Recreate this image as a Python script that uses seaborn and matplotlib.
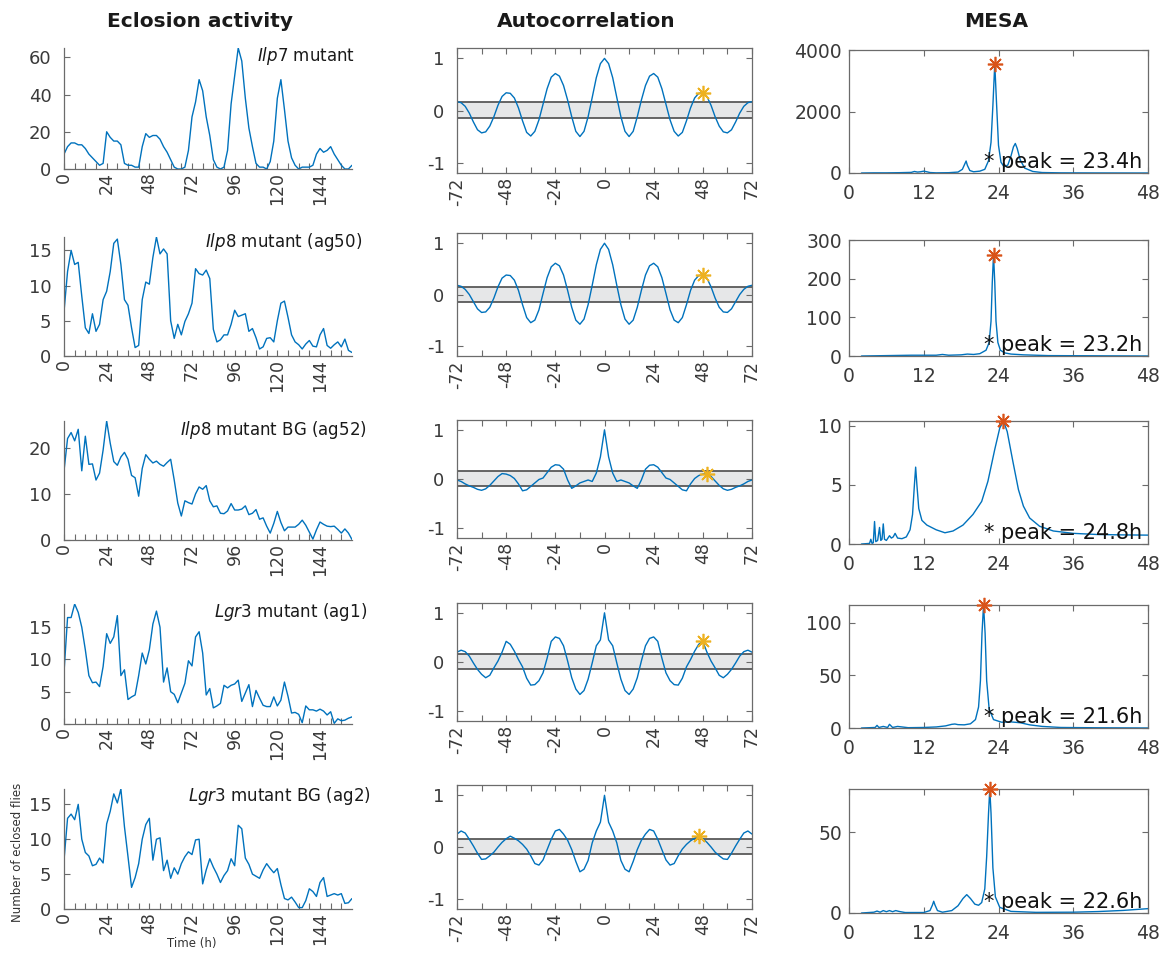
import numpy as np
import matplotlib
matplotlib.use("Agg")
import matplotlib.pyplot as plt
import seaborn as sns
from matplotlib.ticker import FixedLocator, FixedFormatter

# ---------------------------------------------------------------- data
genotypes = [
    r"$\mathit{Ilp7}$ mutant",
    r"$\mathit{Ilp8}$ mutant (ag50)",
    r"$\mathit{Ilp8}$ mutant BG (ag52)",
    r"$\mathit{Lgr3}$ mutant (ag1)",
    r"$\mathit{Lgr3}$ mutant BG (ag2)",
]

# eclosion counts, sampled every 2 h from 0 to 162 h
hours = np.arange(0, 163, 2)
eclosion_ilp7 = [
    8, 12, 14, 14, 13, 13, 11, 8, 6, 4,
    2, 3, 20, 17, 15, 15, 13, 3, 2, 2,
    1, 1, 12, 19, 17, 18, 18, 16, 12, 9,
    5, 1, 0, 0, 1, 10, 28, 36, 48, 42,
    28, 18, 5, 1, 0, 1, 10, 35, 50, 65,
    58, 38, 22, 12, 3, 1, 1, 0, 4, 15,
    38, 48, 32, 15, 6, 2, 0, 1, 1, 1,
    2, 8, 11, 9, 10, 12, 8, 5, 2, 0,
    0, 2,
]
eclosion_ilp8_ag50 = [
    6.3, 12, 15, 13, 13.3, 8.5, 4, 3.2, 6, 3.5,
    4.5, 8, 9.2, 12, 16, 16.6, 13, 8, 7.2, 4,
    1.2, 1.5, 8, 10.5, 10.2, 14, 16.9, 14.5, 15.2, 14.5,
    5, 2.5, 4.5, 3, 4.9, 6, 7.5, 12.4, 11.7, 11.5,
    12.2, 11, 3.8, 2, 2.3, 3, 3, 4.5, 6.5, 5.6,
    5.8, 6, 3.5, 3.9, 2.6, 1, 1.3, 2.5, 2.6, 2,
    5, 7.5, 7.8, 5.5, 3, 2, 1.6, 1, 1.7, 2.2,
    1.4, 1.3, 3, 3.9, 1.5, 1.1, 1.6, 2, 1.3, 2.4,
    0.8, 0.5,
]
eclosion_ilp8_ag52 = [
    15, 22, 23.3, 21.5, 24, 15, 22.5, 16.4, 16.5, 13,
    14.5, 19.5, 25.8, 21, 17, 16.2, 18, 19, 17.5, 14,
    13.5, 9.5, 15.5, 18.5, 17.5, 16.7, 17.1, 16.4, 16, 16.8,
    17.5, 13, 8, 5.2, 8.5, 8.1, 7.8, 10, 11.5, 11,
    11.8, 8.5, 7.2, 7.4, 5.8, 5.7, 6.3, 7.9, 6.5, 6.5,
    6.7, 7.4, 5.5, 5.8, 6.6, 4.5, 4.8, 3, 1.5, 3.6,
    6.2, 3.8, 2, 2.8, 2.8, 2.8, 3.4, 4.3, 3.2, 1.7,
    0.2, 2.2, 3.9, 3.4, 3, 2.9, 3, 2.3, 1.5, 2.4,
    1.5, 0.1,
]
eclosion_lgr3_ag1 = [
    8, 16.5, 16.5, 18.6, 17.3, 15, 11.5, 7.5, 6.4, 6.5,
    5.8, 8.9, 14, 12.5, 13.5, 16.8, 7.5, 8.4, 3.8, 4.2,
    4.5, 7.5, 11, 9.3, 11.5, 15.5, 17.5, 15, 6.5, 8.7,
    5, 4.6, 3.3, 4.8, 6.3, 9.8, 9, 13.5, 14.3, 11,
    4.5, 5.5, 2.5, 2.8, 3.2, 6, 5.6, 6, 6.2, 6.8,
    3.5, 4.8, 6.1, 2.7, 5.2, 4, 2.9, 2.7, 2.7, 4.2,
    2.8, 3.7, 6.5, 4.3, 1.7, 1.8, 1.5, 0.2, 2.8, 2.2,
    2.2, 2, 2.3, 2, 1.4, 1.9, 0.1, 0.8, 0.5, 0.6,
    0.9, 1.1,
]
eclosion_lgr3_ag2 = [
    7, 13, 13.6, 12.8, 15, 10, 8.1, 7.6, 6.2, 6.4,
    7.3, 6.6, 12.2, 14, 16.5, 15.2, 17.2, 11.8, 7.5, 3.1,
    4.5, 6.5, 10, 12.1, 13, 7, 10, 10.2, 5.5, 7,
    4.4, 5.9, 5, 6.5, 7.5, 8.2, 7.8, 9.9, 10, 3.6,
    5.6, 7.2, 6, 5, 3.8, 4.8, 5.5, 7.2, 6.2, 12,
    11.5, 7.3, 6.4, 5, 4.7, 4.4, 5.6, 6.5, 5.8, 5.2,
    5.8, 3.5, 1.5, 1.3, 1.7, 1, 0.2, 0.2, 1.2, 2.9,
    2.5, 1.8, 3.8, 4.5, 1.8, 2, 2.2, 2, 2.2, 0.8,
    0.9, 1.5,
]
eclosion = [eclosion_ilp7, eclosion_ilp8_ag50, eclosion_ilp8_ag52,
            eclosion_lgr3_ag1, eclosion_lgr3_ag2]
eclosion_yticks = [[0, 20, 40, 60], [0, 5, 10, 15], [0, 10, 20],
                   [0, 5, 10, 15], [0, 5, 10, 15]]

# autocorrelation at non-negative lags 0..72 h (step 2 h); the function is even
acf_lags = np.arange(0, 73, 2)
acf_ilp7 = [1.00, 0.90, 0.63, 0.25, -0.12, -0.40, -0.50, -0.40, -0.12, 0.20,
            0.48, 0.66, 0.71, 0.64, 0.42, 0.12, -0.18, -0.40, -0.49, -0.42,
            -0.20, 0.05, 0.24, 0.33, 0.34, 0.27, 0.10, -0.12, -0.30, -0.41,
            -0.43, -0.37, -0.22, -0.05, 0.08, 0.15, 0.17]
acf_ilp8_ag50 = [1.00, 0.88, 0.58, 0.18, -0.20, -0.48, -0.58, -0.50, -0.25, 0.08,
                 0.38, 0.56, 0.61, 0.54, 0.33, 0.02, -0.30, -0.50, -0.55, -0.45,
                 -0.20, 0.08, 0.28, 0.37, 0.38, 0.32, 0.15, -0.07, -0.25, -0.34,
                 -0.35, -0.28, -0.14, 0.00, 0.10, 0.16, 0.18]
acf_ilp8_ag52 = [1.00, 0.45, 0.12, -0.05, -0.02, -0.05, -0.08, -0.14, -0.19, -0.02,
                 0.20, 0.28, 0.29, 0.24, 0.13, 0.02, -0.01, -0.08, -0.15, -0.22,
                 -0.24, -0.10, 0.01, 0.07, 0.10, 0.11, 0.05, -0.04, -0.13, -0.20,
                 -0.23, -0.21, -0.17, -0.14, -0.10, -0.05, -0.02]
acf_lgr3_ag1 = [1.00, 0.45, 0.33, -0.02, -0.35, -0.58, -0.66, -0.55, -0.32, 0.02,
                0.33, 0.48, 0.51, 0.42, 0.08, -0.22, -0.38, -0.46, -0.47, -0.33,
                -0.10, 0.05, 0.22, 0.36, 0.42, 0.20, 0.02, -0.12, -0.27, -0.32,
                -0.25, -0.15, -0.02, 0.12, 0.21, 0.24, 0.20]
acf_lgr3_ag2 = [1.00, 0.48, 0.31, 0.08, -0.26, -0.43, -0.48, -0.28, -0.05, 0.13,
                0.25, 0.34, 0.31, 0.15, -0.05, -0.25, -0.35, -0.32, -0.17, -0.04,
                0.05, 0.12, 0.17, 0.21, 0.16, 0.09, 0.00, -0.10, -0.17, -0.23,
                -0.24, -0.12, 0.02, 0.15, 0.27, 0.31, 0.25]
acf = [acf_ilp7, acf_ilp8_ag50, acf_ilp8_ag52, acf_lgr3_ag1, acf_lgr3_ag2]
acf_marked_lag = [48, 48, 50, 48, 46]
acf_conf_band = (-0.145, 0.155)

# MESA power spectra: period (h) and power
mesa_period_ilp7 = [2, 4, 6, 8, 10, 10.5, 11, 11.5, 12, 12.5, 13, 14, 16, 17.5,
                    18.2, 18.6, 18.8, 19.0, 19.4, 20, 21, 21.8, 22.4, 22.8, 23.1,
                    23.4, 23.7, 24.0, 24.4, 24.9, 25.5, 26.0, 26.4, 26.7, 27.0,
                    27.5, 28.2, 29.5, 31, 34, 40, 48]
mesa_power_ilp7 = [0, 5, 5, 10, 20, 50, 30, 40, 60, 40, 15, 5, 10, 30,
                   120, 300, 390, 250, 80, 40, 60, 120, 400, 1000, 2200,
                   3550, 2200, 900, 350, 200, 260, 550, 850, 960, 800,
                   420, 160, 50, 15, 5, 2, 0]
mesa_period_ilp8_ag50 = [2, 6, 10, 14, 15, 16, 18, 19, 20, 21, 22, 22.5, 22.8,
                         23.0, 23.2, 23.4, 23.6, 23.9, 24.3, 25, 26, 28, 32, 40, 48]
mesa_power_ilp8_ag50 = [0, 1, 2, 2, 4, 2, 3, 5, 4, 6, 15, 35, 90,
                        190, 262, 190, 90, 35, 15, 8, 5, 3, 1, 0.5, 0]
mesa_period_ilp8_ag52 = [2, 3.3, 3.5, 3.7, 3.9, 4.1, 4.3, 4.6, 4.9, 5.1, 5.3, 5.5,
                         5.7, 6.0, 6.5, 6.8, 7.1, 7.4, 7.8, 8.5, 9.2, 9.8, 10.2,
                         10.5, 10.7, 10.9, 11.2, 11.7, 12.5, 14, 15.4, 16.7, 18.3,
                         19.9, 21.3, 22.3, 23.4, 24.2, 24.8, 25.4, 26.3, 27.2, 28,
                         29, 30.6, 32.8, 36, 40, 44, 48]
mesa_power_ilp8_ag52 = [0, 0.05, 0.4, 0.05, 0.1, 1.9, 0.2, 0.3, 1.4, 0.3, 0.4, 1.7,
                        0.4, 0.3, 0.7, 0.5, 0.6, 0.9, 0.5, 0.45, 0.6, 1.2, 2.5,
                        5.0, 6.5, 5.0, 3.0, 2.0, 1.6, 1.2, 0.95, 1.1, 1.6,
                        2.5, 3.6, 5.3, 8.0, 9.8, 10.4, 9.5, 7.0, 4.6, 3.2,
                        2.2, 1.5, 1.1, 0.9, 0.8, 0.77, 0.75]
mesa_period_lgr3_ag1 = [2, 4.2, 4.5, 4.8, 5.5, 6.2, 6.5, 7, 7.8, 9.5, 12, 14, 15.5,
                        16.5, 17, 17.5, 18.5, 19.5, 20.3, 20.8, 21.1, 21.35, 21.6,
                        21.85, 22.1, 22.5, 23.2, 24.5, 26, 27.5, 29, 31, 34, 40, 48]
mesa_power_lgr3_ag1 = [0, 0.5, 2.5, 0.5, 1.5, 0.5, 3.5, 0.5, 1.5, 0.3, 0.5, 1, 2,
                       3.5, 3.8, 3.2, 3.0, 4.0, 8, 20, 45, 90, 117,
                       90, 45, 18, 8, 5.5, 5.8, 5.0, 3, 1.5, 0.5, 0.2, 0]
mesa_period_lgr3_ag2 = [2, 4, 4.5, 5, 5.5, 6, 6.5, 7, 7.5, 8, 9, 12, 13, 13.4, 13.6,
                        13.8, 14.2, 15, 16.5, 17.5, 18.3, 18.9, 19.5, 20.2, 20.8,
                        21.3, 21.8, 22.1, 22.4, 22.6, 22.8, 23.1, 23.5, 24.2, 26,
                        30, 36, 40, 44, 48]
mesa_power_lgr3_ag2 = [0, 0.5, 1.2, 0.5, 1.5, 0.8, 1.5, 0.8, 1.5, 1.0, 0.3, 0.3, 1.5, 5, 7.3,
                       5, 1.5, 0.5, 1.5, 4.5, 9, 11.4, 9, 5.5, 4.8,
                       6.5, 15, 35, 62, 77, 62, 28, 10, 3.5, 1.0,
                       0.4, 0.5, 0.9, 1.6, 2.7]
mesa_period = [mesa_period_ilp7, mesa_period_ilp8_ag50, mesa_period_ilp8_ag52,
               mesa_period_lgr3_ag1, mesa_period_lgr3_ag2]
mesa_power = [mesa_power_ilp7, mesa_power_ilp8_ag50, mesa_power_ilp8_ag52,
              mesa_power_lgr3_ag1, mesa_power_lgr3_ag2]
mesa_peak = [23.4, 23.2, 24.8, 21.6, 22.6]
mesa_ylim_top = [4000, 300, None, None, None]
mesa_yticks = [[0, 2000, 4000], [0, 100, 200, 300], [0, 5, 10], [0, 50, 100], [0, 50]]

# ---------------------------------------------------------------- style
sns.set_theme(style="white")
plt.rcParams["font.family"] = ["DejaVu Sans"]
plt.rcParams["mathtext.fontset"] = "dejavusans"
plt.rcParams["axes.unicode_minus"] = False

BLUE = "#0072BD"
ORANGE = "#EDB120"
RED = "#D95319"
SPINE = "#6b6b6b"
TICKTXT = "#3a3a3a"
TICK_FS = 12.5
ASTERISK = (8, 2, 0)

W, H = 1166, 956
fig = plt.figure(figsize=(W / 100, H / 100), dpi=100)


def place(left, right, top, bottom):
    return fig.add_axes([left / W, 1 - bottom / H, (right - left) / W, (bottom - top) / H])


def style_axes(ax, box):
    for side, sp in ax.spines.items():
        sp.set_color(SPINE)
        sp.set_linewidth(0.9)
        if not box and side in ("top", "right"):
            sp.set_visible(False)
    ax.tick_params(direction="in", length=4, width=0.8, color=SPINE,
                   labelcolor=TICKTXT, labelsize=TICK_FS,
                   top=box, right=box, bottom=True, left=True)
    ax.set_xlabel("")
    ax.set_ylabel("")
    ax.grid(False)


left_rows = [(48, 169), (237, 356), (421, 540), (604, 724), (789, 909)]
mid_rows = [(48, 173), (233, 356), (420, 538), (603, 721), (785, 909)]
right_rows = [(50, 173), (240, 356), (421, 544), (605, 728), (789, 913)]
label_pos = [(355, 56), (362, 242), (367, 430), (367, 612), (371, 796)]

acf_full_lags = np.concatenate([-acf_lags[:0:-1], acf_lags])

for i in range(5):
    # ---- eclosion activity
    ax = place(64, 352, *left_rows[i])
    y = np.asarray(eclosion[i], dtype=float)
    sns.lineplot(x=hours, y=y, ax=ax, color=BLUE, linewidth=1.0,
                 estimator=None, sort=False)
    ax.set_xlim(0, 162)
    ax.set_ylim(0, y.max())
    xt = np.arange(0, 162, 6)
    ax.xaxis.set_major_locator(FixedLocator(xt))
    ax.xaxis.set_major_formatter(FixedFormatter([str(v) if v % 24 == 0 else "" for v in xt]))
    ax.yaxis.set_major_locator(FixedLocator(eclosion_yticks[i]))
    style_axes(ax, box=False)
    ax.tick_params(axis="x", labelrotation=90, pad=2)
    ax.tick_params(axis="y", pad=9, labelsize=13)
    rx, cy = label_pos[i]
    fig.text(rx / W, 1 - cy / H, genotypes[i], ha="right", va="center",
             fontsize=12, color="#1a1a1a")

    # ---- autocorrelation
    ax = place(457, 752, *mid_rows[i])
    half = np.asarray(acf[i], dtype=float)
    full = np.concatenate([half[:0:-1], half])
    ax.axhspan(acf_conf_band[0], acf_conf_band[1], facecolor="#e6e7e8",
               edgecolor="none", zorder=0)
    for lvl in acf_conf_band:
        ax.axhline(lvl, color="#595959", linewidth=1.3, zorder=1)
    sns.lineplot(x=acf_full_lags, y=full, ax=ax, color=BLUE, linewidth=1.0,
                 estimator=None, sort=False, zorder=2)
    lag = acf_marked_lag[i]
    ax.plot([lag], [half[list(acf_lags).index(lag)]], linestyle="none",
            marker=ASTERISK, markersize=11, markeredgewidth=1.2,
            color=ORANGE, zorder=3, clip_on=False)
    ax.set_xlim(-72, 72)
    ax.set_ylim(-1.2, 1.2)
    xt = np.arange(-72, 73, 12)
    ax.xaxis.set_major_locator(FixedLocator(xt))
    ax.xaxis.set_major_formatter(FixedFormatter([str(v) if v % 24 == 0 else "" for v in xt]))
    ax.yaxis.set_major_locator(FixedLocator([-1, 0, 1]))
    style_axes(ax, box=True)
    ax.tick_params(axis="x", labelrotation=90, pad=3)
    ax.tick_params(axis="y", pad=9, labelsize=13)

    # ---- MESA spectrum
    ax = place(849, 1148, *right_rows[i])
    per = np.asarray(mesa_period[i], dtype=float)
    pw = np.asarray(mesa_power[i], dtype=float)
    sns.lineplot(x=per, y=pw, ax=ax, color=BLUE, linewidth=1.0,
                 estimator=None, sort=False)
    pk = mesa_peak[i]
    ax.plot([pk], [pw[np.argmin(np.abs(per - pk))]], linestyle="none",
            marker=ASTERISK, markersize=11, markeredgewidth=1.2,
            color=RED, zorder=3, clip_on=False)
    ax.set_xlim(0, 48)
    top = mesa_ylim_top[i] if mesa_ylim_top[i] is not None else pw.max()
    ax.set_ylim(0, top)
    ax.xaxis.set_major_locator(FixedLocator([0, 12, 24, 36, 48]))
    ax.yaxis.set_major_locator(FixedLocator(mesa_yticks[i]))
    style_axes(ax, box=True)
    ax.tick_params(axis="x", pad=8, labelsize=13.5)
    ax.tick_params(axis="y", pad=5, labelsize=13.5)
    ax.text(0.45, 0.04, f"* peak = {pk}h", transform=ax.transAxes,
            ha="left", va="baseline", fontsize=15, color="#111111")

# column titles
for cx, title in [(200, "Eclosion activity"), (586, "Autocorrelation"), (996, "MESA")]:
    fig.text(cx / W, 1 - 27 / H, title, ha="center", va="baseline",
             fontsize=14.5, fontweight="bold", color="#1a1a1a")

# axis captions for the bottom-left panel
fig.text(18 / W, 1 - 852 / H, "Number of eclosed flies", rotation=90,
         ha="center", va="center", fontsize=8.5, color="#333333")
fig.text(192 / W, 1 - 943 / H, "Time (h)", ha="center", va="center",
         fontsize=8.5, color="#333333")

fig.savefig("out.png", dpi=100, facecolor="white")
